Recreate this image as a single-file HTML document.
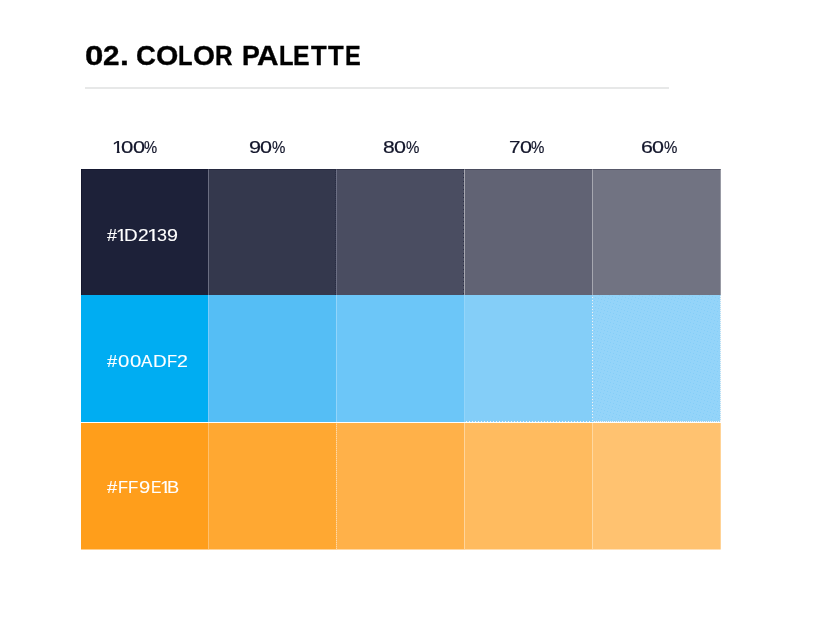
<!DOCTYPE html>
<html><head><meta charset="utf-8">
<style>
html,body{margin:0;padding:0;background:#fff;}
body{width:816px;height:618px;position:relative;overflow:hidden;font-family:"Liberation Sans",sans-serif;}
.title{-webkit-text-stroke:0.35px;position:absolute;left:0;top:41px;width:400px;height:32px;font-size:27px;font-weight:bold;color:#000;white-space:nowrap;line-height:normal;}
.title span{position:absolute;top:0;transform-origin:0 0;}
.rule{position:absolute;left:85px;top:87px;width:584px;height:2px;background:#e7e8e8;}
.lbl,.hex{position:absolute;left:0;width:816px;height:20px;font-size:17px;line-height:20px;-webkit-text-stroke:0.12px;white-space:nowrap;}
.lbl{color:#13162b;-webkit-text-stroke:0.2px;}
.lbl span,.hex span{position:absolute;top:0;transform-origin:0 0;}
.grid{position:absolute;left:81px;top:169px;width:640px;height:380px;}
.c{position:absolute;width:128px;}
.v{position:absolute;width:1px;}
.dz{position:absolute;left:0;top:0;}
.e{position:absolute;}
.h{position:absolute;left:0;width:640px;height:1px;background:#fff;}
.hex{color:#fff;-webkit-text-stroke:0.1px;}
</style></head><body>
<div class="title" aria-label="02. COLOR PALETTE"><span style="left:84.59px;transform:scaleX(1.223)">0</span><span style="left:102.97px;transform:scaleX(1.100)">2</span><span style="left:119.64px;transform:scaleX(1.181)">.</span> <span style="left:136.07px;transform:scaleX(1.020)">C</span><span style="left:155.93px;transform:scaleX(1.061)">O</span><span style="left:178.41px;transform:scaleX(0.880)">L</span><span style="left:192.84px;transform:scaleX(1.045)">O</span><span style="left:215.48px;transform:scaleX(0.899)">R</span> <span style="left:242.02px;transform:scaleX(0.988)">P</span><span style="left:257.26px;transform:scaleX(1.104)">A</span><span style="left:278.51px;transform:scaleX(0.880)">L</span><span style="left:293.34px;transform:scaleX(0.918)">E</span><span style="left:311.21px;transform:scaleX(0.950)">T</span><span style="left:328.21px;transform:scaleX(0.950)">T</span><span style="left:345.33px;transform:scaleX(0.871)">E</span></div>
<div class="rule"></div>
<div class="lbl" aria-label="100%" style="top:138.01px"><span style="left:112.13px;transform:scaleX(1.207);clip-path:polygon(0 0,6.38px 0,6.38px 20px,3.97px 20px,3.97px 12.6px,0 12.6px)">1</span><span style="left:120.53px;transform:scaleX(1.304)">0</span><span style="left:132.95px;transform:scaleX(1.280)">0</span><span style="left:143.87px;transform:scaleX(0.870)">%</span></div>
<div class="lbl" aria-label="90%" style="top:138.01px"><span style="left:248.89px;transform:scaleX(1.273)">9</span><span style="left:260.26px;transform:scaleX(1.267)">0</span><span style="left:271.66px;transform:scaleX(0.885)">%</span></div>
<div class="lbl" aria-label="80%" style="top:138.01px"><span style="left:382.98px;transform:scaleX(1.241)">8</span><span style="left:394.26px;transform:scaleX(1.267)">0</span><span style="left:405.66px;transform:scaleX(0.885)">%</span></div>
<div class="lbl" aria-label="70%" style="top:138.01px"><span style="left:508.84px;transform:scaleX(1.216)">7</span><span style="left:519.66px;transform:scaleX(1.267)">0</span><span style="left:531.06px;transform:scaleX(0.885)">%</span></div>
<div class="lbl" aria-label="60%" style="top:138.01px"><span style="left:640.81px;transform:scaleX(1.262)">6</span><span style="left:652.26px;transform:scaleX(1.267)">0</span><span style="left:663.66px;transform:scaleX(0.885)">%</span></div>
<div class="grid">
<div class="c" style="left:0;top:0;height:126px;background:#1d2139"></div>
<div class="c" style="left:128px;top:0;height:126px;background:#34384d"></div>
<div class="c" style="left:256px;top:0;height:126px;background:#4a4d61"></div>
<div class="c" style="left:384px;top:0;height:126px;background:#616374"></div>
<div class="c" style="left:512px;top:0;height:126px;background:#717382"></div>
<div class="c" style="left:0;top:126px;height:127px;background:#00adf2"></div>
<div class="c" style="left:128px;top:126px;height:127px;background:#55bef5"></div>
<div class="c" style="left:256px;top:126px;height:127px;background:#6cc6f8"></div>
<div class="c" style="left:384px;top:126px;height:127px;background:#84cef8"></div>
<div class="c" style="left:512px;top:126px;height:127px;background:#94d4f9"></div>
<div class="c" style="left:0;top:253px;height:127px;background:#ff9e1b"></div>
<div class="c" style="left:128px;top:253px;height:127px;background:#ffa832"></div>
<div class="c" style="left:256px;top:253px;height:127px;background:#ffb149"></div>
<div class="c" style="left:384px;top:253px;height:127px;background:#ffbb5f"></div>
<div class="c" style="left:512px;top:253px;height:127px;background:#ffc270"></div>

<!-- separators -->
<div class="v" style="left:127px;top:0px;height:126px;background:#6b6e82"></div>
<div class="v" style="left:255px;top:0px;height:126px;background:#6c6f84"></div>
<div class="v" style="left:383px;top:0px;height:126px;background:#a6a7b0"></div>
<div class="v" style="left:511px;top:0px;height:126px;background:#a6a7b0"></div>
<div class="v" style="left:127px;top:126px;height:127px;background:#7dcbf9"></div>
<div class="v" style="left:255px;top:126px;height:127px;background:#93d5fa"></div>
<div class="v" style="left:383px;top:126px;height:127px;background:#94d5fa"></div>
<div class="v" style="left:511px;top:126px;height:127px;background:#94d5fa"></div>
<div class="v" style="left:127px;top:253px;height:127px;background:#ffc06c"></div>
<div class="v" style="left:255px;top:253px;height:127px;background:#ffc06c"></div>
<div class="v" style="left:383px;top:253px;height:127px;background:#ffd59b"></div>
<div class="v" style="left:511px;top:253px;height:127px;background:#ffd8a0"></div>
<div class="h" style="top:253px"></div>
<div class="e" style="left:0;top:380px;width:640px;height:1px;background:linear-gradient(90deg,#ff9e1b 0 128px,#ffa832 128px 256px,#ffb149 256px 384px,#ffbb5f 384px 512px,#ffc270 512px 640px);opacity:.5"></div>
<div class="e" style="left:639px;top:0;width:1px;height:381px;background:rgba(255,255,255,.28)"></div>
<div class="e" style="left:0;top:0;width:640px;height:1px;background:rgba(0,0,24,.22)"></div>
<div class="e" style="left:0;top:0;width:1px;height:126px;background:rgba(0,0,24,.3)"></div>
<svg class="dz" width="640" height="380" viewBox="0 0 640 380" shape-rendering="crispEdges">
<defs>
<pattern id="dth" width="10" height="10" patternUnits="userSpaceOnUse" fill="#84cef8">
<rect x="0" y="0" width="1" height="1"/><rect x="3" y="1" width="1" height="1"/><rect x="6" y="2" width="1" height="1"/><rect x="9" y="3" width="1" height="1"/><rect x="2" y="4" width="1" height="1"/><rect x="5" y="5" width="1" height="1"/><rect x="8" y="6" width="1" height="1"/><rect x="1" y="7" width="1" height="1"/><rect x="4" y="8" width="1" height="1"/><rect x="7" y="9" width="1" height="1"/>
</pattern>
<pattern id="v3" width="1" height="3" patternUnits="userSpaceOnUse"><rect x="0" y="2" width="1" height="1" fill="#f2f2f2"/></pattern>
<pattern id="v2" width="1" height="2" patternUnits="userSpaceOnUse"><rect x="0" y="1" width="1" height="1" fill="#f2f2f2"/></pattern>
<pattern id="h3" width="3" height="1" patternUnits="userSpaceOnUse"><rect x="1" y="0" width="1" height="1" fill="#f2f2f2"/></pattern>
<pattern id="h2" width="2" height="1" patternUnits="userSpaceOnUse"><rect x="1" y="0" width="1" height="1" fill="#f2f2f2"/></pattern>
<pattern id="o2" width="1" height="2" patternUnits="userSpaceOnUse"><rect x="0" y="1" width="1" height="1" fill="#ffd9a8"/></pattern>
<pattern id="d2" width="1" height="2" patternUnits="userSpaceOnUse"><rect x="0" y="1" width="1" height="1" fill="#272b42"/></pattern>
<pattern id="d3" width="1" height="4" patternUnits="userSpaceOnUse"><rect x="0" y="0" width="1" height="1" fill="#2a2d44"/></pattern>
</defs>
<rect x="512" y="126" width="128" height="127" fill="url(#dth)"/>
<rect x="511" y="126" width="1" height="126" fill="url(#v3)"/>
<rect x="639" y="126" width="1" height="127" fill="url(#v2)"/>
<rect x="383" y="252" width="128" height="1" fill="url(#h3)"/>
<rect x="512" y="252" width="128" height="1" fill="url(#h2)"/>
<rect x="255" y="254" width="1" height="126" fill="url(#o2)"/>
<rect x="382" y="0" width="1" height="126" fill="url(#d3)"/>
<rect x="254" y="1" width="1" height="125" fill="url(#d2)"/>
</svg>
</div>
<div class="hex" aria-label="#1D2139" style="top:226.01px"><span style="left:107.12px;transform:scaleX(1.054)">#</span><span style="left:116.34px;transform:scaleX(1.135);clip-path:polygon(0 0,6.38px 0,6.38px 20px,3.97px 20px,3.97px 12.6px,0 12.6px)">1</span><span style="left:124.05px;transform:scaleX(1.112)">D</span><span style="left:137.84px;transform:scaleX(1.123)">2</span><span style="left:147.41px;transform:scaleX(1.280);clip-path:polygon(0 0,6.38px 0,6.38px 20px,3.97px 20px,3.97px 12.6px,0 12.6px)">1</span><span style="left:156.82px;transform:scaleX(1.055)">3</span><span style="left:166.88px;transform:scaleX(1.159)">9</span></div>
<div class="hex" aria-label="#00ADF2" style="top:351.91px"><span style="left:107.12px;transform:scaleX(1.076)">#</span><span style="left:118.21px;transform:scaleX(1.194)">0</span><span style="left:129.71px;transform:scaleX(1.194)">0</span><span style="left:141.27px;transform:scaleX(1.002)">A</span><span style="left:152.55px;transform:scaleX(1.112)">D</span><span style="left:166.74px;transform:scaleX(0.975)">F</span><span style="left:177.22px;transform:scaleX(1.149)">2</span></div>
<div class="hex" aria-label="#FF9E1B" style="top:477.91px"><span style="left:107.12px;transform:scaleX(1.076)">#</span><span style="left:117.86px;transform:scaleX(0.963)">F</span><span style="left:128.22px;transform:scaleX(0.987)">F</span><span style="left:138.96px;transform:scaleX(1.184)">9</span><span style="left:150.51px;transform:scaleX(0.923)">E</span><span style="left:159.64px;transform:scaleX(1.135);clip-path:polygon(0 0,6.38px 0,6.38px 20px,3.97px 20px,3.97px 12.6px,0 12.6px)">1</span><span style="left:167.30px;transform:scaleX(1.072)">B</span></div>
</body></html>
